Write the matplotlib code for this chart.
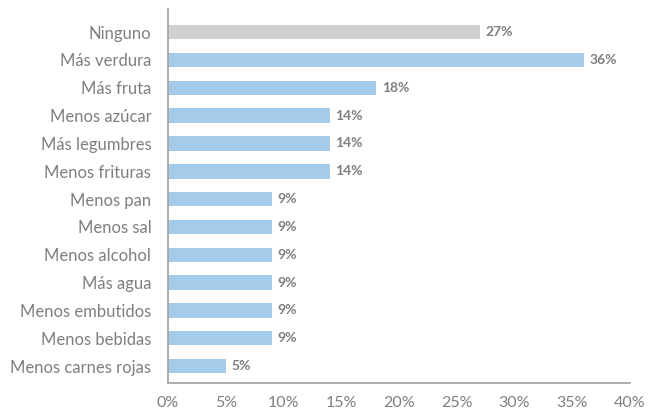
import matplotlib
matplotlib.use('Agg')
import matplotlib.pyplot as plt

categories = ['Ninguno', 'Más verdura', 'Más fruta', 'Menos azúcar', 'Más legumbres',
              'Menos frituras', 'Menos pan', 'Menos sal', 'Menos alcohol', 'Más agua',
              'Menos embutidos', 'Menos bebidas', 'Menos carnes rojas']
values = [27, 36, 18, 14, 14, 14, 9, 9, 9, 9, 9, 9, 5]
xticks = [0, 5, 10, 15, 20, 25, 30, 35, 40]

blue = '#A4CBEA'
grey = '#D0D0D2'
text_col = '#7F7F7F'

plt.rcParams['font.family'] = ['Lato', 'DejaVu Sans']

fig = plt.figure(figsize=(6.5, 4.11), dpi=100)
ax = fig.add_axes([0.2585, 0.068, 0.7105, 0.91])

ypos = list(range(len(categories)))
colors = [grey] + [blue] * (len(categories) - 1)
ax.barh(ypos, values, height=0.52, color=colors, zorder=2)

for y, v in zip(ypos, values):
    ax.text(v + 0.5, y, f'{v}%', va='center', ha='left', fontsize=10,
            fontweight='bold', color=text_col)

ax.set_yticks(ypos)
ax.set_yticklabels(categories, fontsize=12, color=text_col)
ax.set_ylim(len(categories) - 1 + 0.61, -0.83)

ax.set_xlim(0, 40)
ax.set_xticks(xticks)
ax.set_xticklabels([f'{t}%' for t in xticks], fontsize=11.5, color=text_col)

ax.tick_params(axis='both', length=0)
ax.tick_params(axis='y', pad=12)
ax.tick_params(axis='x', pad=9)

for s in ['top', 'right']:
    ax.spines[s].set_visible(False)
for s in ['left', 'bottom']:
    ax.spines[s].set_color('#A6A6A6')
    ax.spines[s].set_linewidth(1.3)

fig.savefig('out.png', dpi=100)
